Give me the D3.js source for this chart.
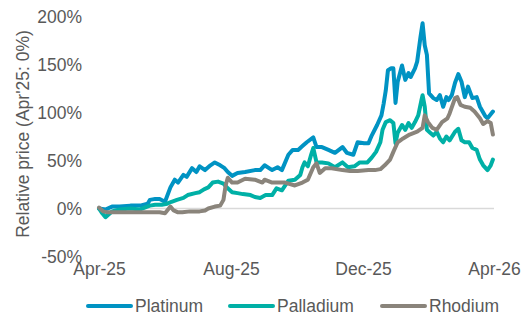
<!DOCTYPE html>
<html><head><meta charset="utf-8">
<script src="https://cdn.jsdelivr.net/npm/d3@7"></script>
<style>
html,body{margin:0;padding:0;background:#fff;}
svg{display:block;font-family:"Liberation Sans",Arial,sans-serif;}
</style></head>
<body><svg id="c" width="531" height="327"></svg>
<script>
const seriesNames = ["Platinum", "Palladium", "Rhodium"];
const seriesColors = ["#0093C3", "#00B0A6", "#8A847B"];
const yTicks = [-50, 0, 50, 100, 150, 200];
const xTickLabels = ["Apr-25", "Aug-25", "Dec-25", "Apr-26"];
const xTickDates = ["2025-04-01", "2025-08-01", "2025-12-01", "2026-04-01"];
const yTitle = "Relative price (Apr'25: 0%)";

const platinumDates = ["2025-04-01","2025-04-07","2025-04-13","2025-04-20","2025-04-30","2025-05-09","2025-05-16","2025-05-18","2025-05-23","2025-05-27","2025-06-01","2025-06-06","2025-06-10","2025-06-13","2025-06-18","2025-06-21","2025-06-26","2025-06-30","2025-07-03","2025-07-08","2025-07-13","2025-07-17","2025-07-22","2025-07-26","2025-07-29","2025-08-02","2025-08-07","2025-08-14","2025-08-23","2025-08-28","2025-09-01","2025-09-08","2025-09-13","2025-09-17","2025-09-23","2025-09-27","2025-10-02","2025-10-06","2025-10-10","2025-10-16","2025-10-19","2025-10-24","2025-10-30","2025-11-05","2025-11-12","2025-11-16","2025-11-22","2025-11-26","2025-12-02","2025-12-06","2025-12-09","2025-12-14","2025-12-18","2025-12-20","2025-12-22","2025-12-24","2025-12-27","2025-12-29","2025-12-31","2026-01-02","2026-01-06","2026-01-09","2026-01-12","2026-01-14","2026-01-18","2026-01-20","2026-01-23","2026-01-25","2026-01-27","2026-01-29","2026-01-31","2026-02-04","2026-02-07","2026-02-10","2026-02-13","2026-02-16","2026-02-18","2026-02-21","2026-02-24","2026-02-27","2026-03-02","2026-03-05","2026-03-08","2026-03-12","2026-03-16","2026-03-19","2026-03-24","2026-03-26","2026-03-31"];
const platinumValues = [0,-1,2,2,3,3,5,9,10,10,7,22,30,27,35,33,42,38,44,40,45,48,45,42,38,34,37,38,40,40,45,40,43,40,56,61,61,65,69,74,64,64,61,58,64,58,56,69,68,68,76,87,97,109,123,144,146,146,110,132,149,134,141,137,146,153,178,193,170,160,120,115,113,118,106,116,113,118,131,140,132,116,127,115,116,106,96,94,101];

const palladiumDates = ["2025-04-01","2025-04-04","2025-04-07","2025-04-13","2025-04-20","2025-04-30","2025-05-09","2025-05-18","2025-05-23","2025-05-29","2025-06-03","2025-06-07","2025-06-12","2025-06-18","2025-06-22","2025-06-29","2025-07-03","2025-07-07","2025-07-11","2025-07-15","2025-07-20","2025-07-25","2025-07-29","2025-08-02","2025-08-07","2025-08-12","2025-08-19","2025-08-23","2025-08-28","2025-09-02","2025-09-08","2025-09-12","2025-09-17","2025-09-23","2025-09-29","2025-10-04","2025-10-06","2025-10-08","2025-10-11","2025-10-14","2025-10-16","2025-10-19","2025-10-24","2025-10-30","2025-11-05","2025-11-12","2025-11-17","2025-11-23","2025-11-28","2025-12-05","2025-12-09","2025-12-13","2025-12-17","2025-12-19","2025-12-22","2025-12-26","2025-12-29","2025-12-31","2026-01-02","2026-01-06","2026-01-09","2026-01-12","2026-01-15","2026-01-18","2026-01-21","2026-01-24","2026-01-25","2026-01-27","2026-01-29","2026-02-01","2026-02-04","2026-02-07","2026-02-10","2026-02-13","2026-02-16","2026-02-19","2026-02-24","2026-02-27","2026-03-02","2026-03-05","2026-03-09","2026-03-12","2026-03-16","2026-03-19","2026-03-22","2026-03-26","2026-03-29","2026-03-31"];
const palladiumValues = [0,-5,-9,-3,-1,0,-1,3,4,4,5,7,9,11,14,16,17,20,22,27,28,26,21,17,16,15,14,12,11,14,14,21,19,29,30,35,43,48,44,56,63,48,48,47,43,48,43,44,48,48,53,59,69,82,90,92,89,68,79,87,82,89,84,90,97,113,118,106,82,79,76,80,73,69,75,71,80,83,71,69,69,63,61,51,45,40,45,51];

const rhodiumDates = ["2025-04-01","2025-04-05","2025-04-09","2025-04-20","2025-05-09","2025-05-27","2025-06-01","2025-06-06","2025-06-09","2025-06-13","2025-06-17","2025-06-24","2025-07-03","2025-07-08","2025-07-11","2025-07-17","2025-07-22","2025-07-25","2025-07-27","2025-07-29","2025-08-02","2025-08-07","2025-08-14","2025-08-23","2025-08-30","2025-09-01","2025-09-08","2025-09-20","2025-09-29","2025-10-06","2025-10-11","2025-10-16","2025-10-19","2025-10-22","2025-10-27","2025-11-02","2025-11-12","2025-11-19","2025-11-26","2025-12-06","2025-12-12","2025-12-17","2025-12-21","2025-12-26","2025-12-29","2026-01-02","2026-01-07","2026-01-13","2026-01-20","2026-01-25","2026-01-27","2026-01-30","2026-02-03","2026-02-07","2026-02-12","2026-02-17","2026-02-19","2026-02-24","2026-02-26","2026-03-01","2026-03-05","2026-03-10","2026-03-14","2026-03-19","2026-03-22","2026-03-26","2026-03-29","2026-03-31"];
const rhodiumValues = [1,-3,-4,-4,-4,-4,-5,2,-2,-4,-4,-3,-3,-2,0,2,3,9,24,32,27,27,31,30,27,30,27,27,24,27,30,43,47,37,42,42,40,39,39,40,40,41,45,51,59,69,73,77,80,84,97,90,84,82,90,94,99,115,116,108,106,105,101,94,88,91,89,77];

const parse = d3.timeParse("%Y-%m-%d");
const series = [
  {name: seriesNames[0], color: seriesColors[0], pts: platinumDates.map((d,i)=>({d:parse(d), v:platinumValues[i]}))},
  {name: seriesNames[1], color: seriesColors[1], pts: palladiumDates.map((d,i)=>({d:parse(d), v:palladiumValues[i]}))},
  {name: seriesNames[2], color: seriesColors[2], pts: rhodiumDates.map((d,i)=>({d:parse(d), v:rhodiumValues[i]}))}
];

const svg = d3.select("#c");
const x = d3.scaleTime().domain([parse("2025-04-01"), parse("2026-04-01")]).range([99, 494]);
const y = d3.scaleLinear().domain([-50, 200]).range([256.5, 16.5]);
const txt = "#595959";

// zero line
svg.append("line").attr("x1", 99).attr("x2", 494).attr("y1", y(0)).attr("y2", y(0))
  .attr("stroke", "#D9D9D9").attr("stroke-width", 1.5);

// y axis (labels only)
const yAxis = d3.axisLeft(y).tickValues(yTicks).tickSize(0).tickPadding(0).tickFormat(d => d + "%");
const yg = svg.append("g").attr("transform", "translate(82,0)").call(yAxis);
yg.select(".domain").remove();
yg.selectAll("text").attr("fill", txt).attr("font-size", 17.5).attr("dy", "0.36em")
  .attr("font-family", "'Liberation Sans', Arial, sans-serif");

// x axis (labels only)
const xAxis = d3.axisBottom(x).tickValues(xTickDates.map(parse)).tickSize(0).tickPadding(0)
  .tickFormat((d,i) => xTickLabels[i]);
const xg = svg.append("g").attr("transform", "translate(0,269)").call(xAxis);
xg.select(".domain").remove();
xg.selectAll("text").attr("fill", txt).attr("font-size", 17.5).attr("dy", "0.36em")
  .attr("font-family", "'Liberation Sans', Arial, sans-serif");

// y title
svg.append("text").attr("transform", "translate(23,134) rotate(-90)")
  .attr("text-anchor", "middle").attr("dy", "0.36em")
  .attr("fill", txt).attr("font-size", 17.5).text(yTitle);

// lines
const line = d3.line().x(p => x(p.d)).y(p => y(p.v)).curve(d3.curveLinear);
svg.append("g").selectAll("path").data(series).join("path")
  .attr("d", s => line(s.pts)).attr("fill", "none")
  .attr("stroke", s => s.color).attr("stroke-width", 4)
  .attr("stroke-linejoin", "round").attr("stroke-linecap", "round");

// legend
const legX = [88, 230, 382];
const lg = svg.append("g").selectAll("g").data(series).join("g")
  .attr("transform", (s,i) => `translate(${legX[i]},306)`);
lg.append("line").attr("x1", 0).attr("x2", 43).attr("y1", 0).attr("y2", 0)
  .attr("stroke", s => s.color).attr("stroke-width", 4).attr("stroke-linecap", "round");
lg.append("text").attr("x", 47).attr("dy", "0.36em").attr("fill", txt)
  .attr("font-size", 17.5).text(s => s.name);
</script></body></html>
